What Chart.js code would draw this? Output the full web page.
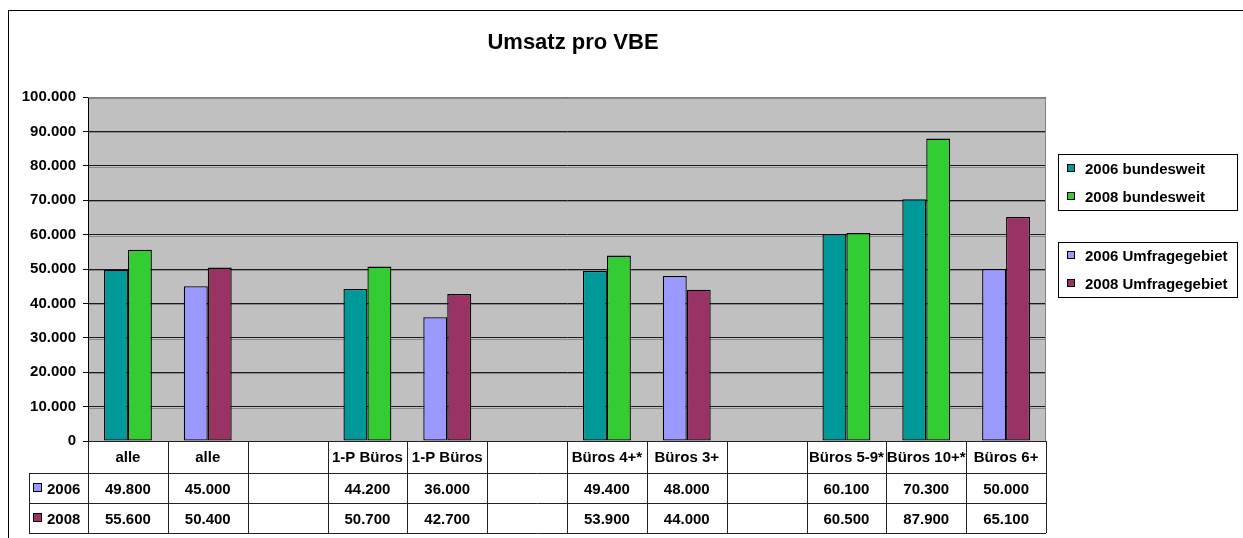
<!DOCTYPE html>
<html lang="de">
<head>
<meta charset="utf-8">
<title>Umsatz pro VBE</title>
<script src="https://cdn.jsdelivr.net/npm/chart.js"></script>
<style>
  body { margin: 0; background: #fff; }
  #wrap { width: 1243px; height: 538px; }
</style>
</head>
<body>
<div id="wrap"><canvas id="umsatzChart"></canvas></div>
<script>
  // categories (empty ones are the gaps between groups)
  const categories = ['alle', 'alle', '', '1-P Büros', '1-P Büros', '', 'Büros 4+*', 'Büros 3+', '', 'Büros 5-9*', 'Büros 10+*', 'Büros 6+'];
  // b = bundesweit, u = Umfragegebiet
  const groups = ['b', 'u', '', 'b', 'u', '', 'b', 'u', '', 'b', 'b', 'u'];
  const umsatz2006 = [49800, 45000, null, 44200, 36000, null, 49400, 48000, null, 60100, 70300, 50000];
  const umsatz2008 = [55600, 50400, null, 50700, 42700, null, 53900, 44000, null, 60500, 87900, 65100];
  const seriesNames = ['2006', '2008'];
  const legendNames = [['2006 bundesweit', '2008 bundesweit'], ['2006 Umfragegebiet', '2008 Umfragegebiet']];

  const colors = { b: ['#009999', '#33CC33'], u: ['#9999FF', '#993366'] };
  const FONT = 'Arial, "Liberation Sans", sans-serif';

  function fmt(v) {
    return String(v).replace(/\B(?=(\d{3})+(?!\d))/g, '.');
  }

  const barColors = s => groups.map(g => g ? colors[g][s] : 'transparent');

  const extras = {
    id: 'extras',
    beforeDraw(chart) {
      const a = chart.chartArea, ctx = chart.ctx;
      ctx.save();
      ctx.fillStyle = '#C0C0C0';
      ctx.fillRect(a.left, a.top, a.right - a.left, a.bottom - a.top);
      // soft shadow under the grid lines (excel look)
      const ys = chart.scales.y;
      ctx.strokeStyle = '#8a8a8a';
      ctx.beginPath();
      ys.ticks.forEach(t => {
        const y = Math.round(ys.getPixelForValue(t.value)) + 1.5;
        if (y < a.bottom) { ctx.moveTo(a.left, y); ctx.lineTo(a.right, y); }
      });
      ctx.stroke();
      ctx.restore();
    },
    afterDraw(chart) {
      const ctx = chart.ctx, a = chart.chartArea, xs = chart.scales.x;
      ctx.save();

      // outer frame
      ctx.strokeStyle = '#000';
      ctx.lineWidth = 1;
      ctx.strokeRect(8.5, 10.5, 1400, 700);

      // plot border
      ctx.strokeStyle = '#808080';
      ctx.beginPath();
      ctx.moveTo(a.left, a.top + 0.5); ctx.lineTo(a.right - 0.5, a.top + 0.5);
      ctx.lineTo(a.right - 0.5, a.bottom);
      ctx.stroke();

      // title
      ctx.fillStyle = '#000';
      ctx.font = 'bold 22px ' + FONT;
      ctx.textAlign = 'center';
      ctx.textBaseline = 'alphabetic';
      ctx.fillText('Umsatz pro VBE', 573, 49);

      // data table
      const cw = (xs.right - xs.left) / categories.length;
      const top = a.bottom, rows = [top, 473, 503, 533];
      ctx.strokeStyle = '#222';
      ctx.beginPath();
      ctx.moveTo(a.left, top + 0.5); ctx.lineTo(a.right, top + 0.5);
      ctx.moveTo(29, rows[1] + 0.5); ctx.lineTo(a.right, rows[1] + 0.5);
      ctx.moveTo(29, rows[2] + 0.5); ctx.lineTo(a.right, rows[2] + 0.5);
      ctx.moveTo(29, rows[3] + 0.5); ctx.lineTo(a.right, rows[3] + 0.5);
      ctx.moveTo(29.5, rows[1]); ctx.lineTo(29.5, rows[3]);
      for (let i = 0; i <= categories.length; i++) {
        const x = Math.round(xs.left + i * cw) + 0.5;
        ctx.moveTo(x, top); ctx.lineTo(x, rows[3]);
      }
      ctx.stroke();

      ctx.font = 'bold 15px ' + FONT;
      ctx.textAlign = 'center';
      const series = [umsatz2006, umsatz2008];
      categories.forEach((c, i) => {
        const cx = xs.getPixelForValue(i);
        if (c) ctx.fillText(c, cx, 462);
        series.forEach((s, k) => {
          if (s[i] != null) ctx.fillText(fmt(s[i]), cx, k === 0 ? 494 : 524);
        });
      });
      // row headers
      ctx.textAlign = 'left';
      seriesNames.forEach((n, k) => {
        const base = k === 0 ? 494 : 524;
        ctx.fillStyle = colors.u[k];
        ctx.fillRect(33.5, base - 10.5, 8, 8);
        ctx.strokeStyle = '#000';
        ctx.strokeRect(33.5, base - 10.5, 8, 8);
        ctx.fillStyle = '#000';
        ctx.fillText(n, 47, base);
      });

      // legends
      const boxes = [{ y: 154, h: 56, key: 'b', bases: [174, 202] }, { y: 242, h: 55, key: 'u', bases: [261, 289] }];
      boxes.forEach((b, bi) => {
        ctx.fillStyle = '#fff';
        ctx.fillRect(1058, b.y, 179, b.h);
        ctx.strokeStyle = '#000';
        ctx.strokeRect(1058.5, b.y + 0.5, 179, b.h);
        b.bases.forEach((base, k) => {
          ctx.fillStyle = colors[b.key][k];
          ctx.fillRect(1067.5, base - 9.5, 7, 7);
          ctx.strokeStyle = '#000';
          ctx.strokeRect(1067.5, base - 9.5, 7, 7);
          ctx.fillStyle = '#000';
          ctx.fillText(legendNames[bi][k], 1085, base);
        });
      });
      ctx.restore();
    }
  };

  new Chart(document.getElementById('umsatzChart'), {
    type: 'bar',
    data: {
      labels: categories,
      datasets: [
        { label: seriesNames[0], data: umsatz2006, backgroundColor: barColors(0), borderColor: '#000', borderWidth: 1.3, borderSkipped: false },
        { label: seriesNames[1], data: umsatz2008, backgroundColor: barColors(1), borderColor: '#000', borderWidth: 1.3, borderSkipped: false }
      ]
    },
    options: {
      responsive: true,
      maintainAspectRatio: false,
      animation: false,
      layout: { padding: { left: 0, right: 197, top: 97, bottom: 97 } },
      datasets: { bar: { categoryPercentage: 0.6, barPercentage: 1 } },
      plugins: { legend: { display: false }, title: { display: false }, tooltip: { enabled: false } },
      scales: {
        x: {
          ticks: { display: false },
          grid: { display: false },
          border: { display: false },
          afterFit(s) { s.height = 0; }
        },
        y: {
          min: 0, max: 100000,
          ticks: { stepSize: 10000, color: '#000', padding: 7, font: { family: FONT, size: 15, weight: 'bold' }, callback: v => fmt(v) },
          grid: { color: '#1a1a1a', tickColor: '#000', tickLength: 5 },
          border: { display: true, color: '#000' },
          afterFit(s) { s.width = 88; }
        }
      }
    },
    plugins: [extras]
  });
</script>
</body>
</html>
